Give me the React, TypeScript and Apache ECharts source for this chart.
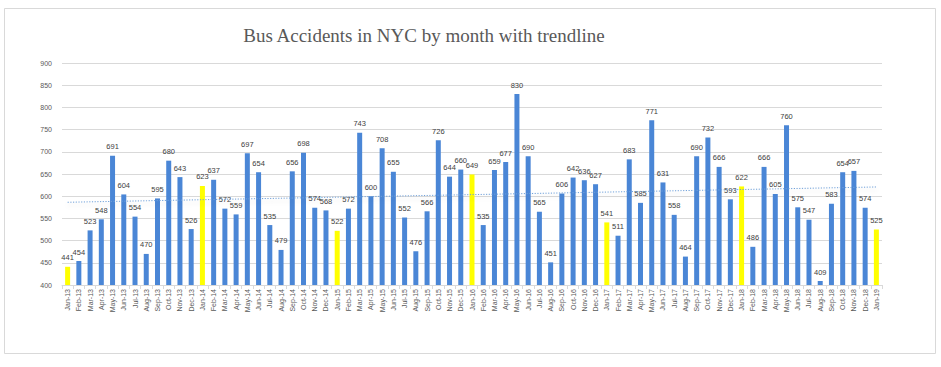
import React, { useEffect, useRef } from "react";
import * as echarts from "echarts";

const categories = [
  "Jan-13","Feb-13","Mar-13","Apr-13","May-13","Jun-13","Jul-13","Aug-13","Sep-13","Oct-13","Nov-13","Dec-13",
  "Jan-14","Feb-14","Mar-14","Apr-14","May-14","Jun-14","Jul-14","Aug-14","Sep-14","Oct-14","Nov-14","Dec-14",
  "Jan-15","Feb-15","Mar-15","Apr-15","May-15","Jun-15","Jul-15","Aug-15","Sep-15","Oct-15","Nov-15","Dec-15",
  "Jan-16","Feb-16","Mar-16","Apr-16","May-16","Jun-16","Jul-16","Aug-16","Sep-16","Oct-16","Nov-16","Dec-16",
  "Jan-17","Feb-17","Mar-17","Apr-17","May-17","Jun-17","Jul-17","Aug-17","Sep-17","Oct-17","Nov-17","Dec-17",
  "Jan-18","Feb-18","Mar-18","Apr-18","May-18","Jun-18","Jul-18","Aug-18","Sep-18","Oct-18","Nov-18","Dec-18",
  "Jan-19",
];

const accidents = [
  441, 454, 523, 548, 691, 604, 554, 470, 595, 680, 643, 526,
  623, 637, 572, 559, 697, 654, 535, 479, 656, 698, 574, 568,
  522, 572, 743, 600, 708, 655, 552, 476, 566, 726, 644, 660,
  649, 535, 659, 677, 830, 690, 565, 451, 606, 642, 636, 627,
  541, 511, 683, 585, 771, 631, 558, 464, 690, 732, 666, 593,
  622, 486, 666, 605, 760, 575, 547, 409, 583, 654, 657, 574,
  525,
];

const BLUE = "#4A86D6";
const YELLOW = "#FFFF00";

// Linear least-squares trendline derived from the data
function trend(values: number[]): number[] {
  const n = values.length;
  let sx = 0, sy = 0, sxy = 0, sxx = 0;
  values.forEach((y, i) => {
    const x = i + 1;
    sx += x; sy += y; sxy += x * y; sxx += x * x;
  });
  const b = (n * sxy - sx * sy) / (n * sxx - sx * sx);
  const a = (sy - b * sx) / n;
  return values.map((_, i) => a + b * (i + 1));
}

export default function App() {
  const ref = useRef<HTMLDivElement>(null);
  useEffect(() => {
    if (!ref.current) return;
    const chart = echarts.init(ref.current, null, { renderer: "svg" });
    const trendData = trend(accidents);
    chart.setOption({
      animation: false,
      backgroundColor: "#ffffff",
      graphic: [
        {
          type: "rect",
          shape: { x: 4.5, y: 8.5, width: 931, height: 345 },
          style: { fill: "none", stroke: "#d9d9d9", lineWidth: 1 },
          z: -1,
        },
        {
          type: "text",
          x: 424,
          y: 35,
          style: {
            text: "Bus Accidents in NYC by month with trendline",
            fill: "#595959",
            font: '19px "Liberation Serif", serif',
            align: "center",
            verticalAlign: "middle",
          },
        },
      ],
      grid: { left: 62, right: 59, top: 63, bottom: 82, containLabel: false },
      xAxis: {
        type: "category",
        data: categories,
        boundaryGap: true,
        axisLine: { show: true, lineStyle: { color: "#d9d9d9" } },
        axisTick: { show: true, length: 4, lineStyle: { color: "#d9d9d9" } },
        axisLabel: {
          interval: 0,
          rotate: 90,
          fontSize: 7,
          color: "#595959",
          fontFamily: "Liberation Sans, sans-serif",
          margin: 4,
        },
      },
      yAxis: {
        type: "value",
        min: 400,
        max: 900,
        interval: 50,
        axisLine: { show: false },
        axisTick: { show: false },
        splitLine: { lineStyle: { color: "#d9d9d9", width: 1 } },
        axisLabel: {
          fontSize: 7,
          color: "#595959",
          fontFamily: "Liberation Sans, sans-serif",
          margin: 10,
        },
      },
      series: [
        {
          type: "bar",
          data: accidents.map((v, i) => ({
            value: v,
            itemStyle: { color: categories[i].startsWith("Jan") ? YELLOW : BLUE },
          })),
          barWidth: 5,
          label: {
            show: true,
            position: "top",
            distance: 5,
            fontSize: 7.5,
            color: "#404040",
            fontFamily: "Liberation Sans, sans-serif",
          },
          z: 2,
        },
        {
          type: "line",
          data: trendData,
          symbol: "none",
          lineStyle: {
            color: "#6E9FD8",
            width: 1,
            type: [1.2, 1.5],
            shadowColor: "rgba(0,0,0,0.18)",
            shadowBlur: 4,
            shadowOffsetY: 3,
          },
          z: 3,
          silent: true,
        },
      ],
    });
    return () => chart.dispose();
  }, []);
  return (
    <div
      ref={ref}
      style={{ position: "fixed", left: 0, top: 0, width: 941, height: 367 }}
    />
  );
}
